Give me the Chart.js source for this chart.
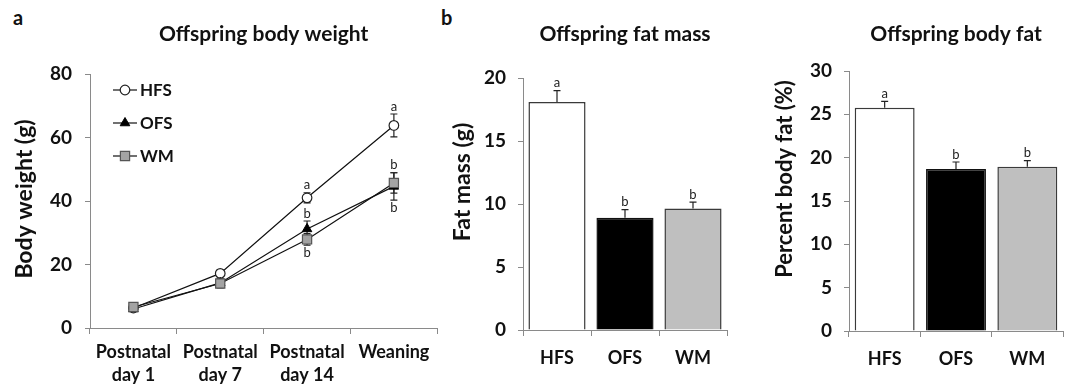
<!DOCTYPE html>
<html><head><meta charset="utf-8">
<script src="https://cdn.jsdelivr.net/npm/chart.js@4.4.0/dist/chart.umd.min.js"></script>
<style>
html,body{margin:0;padding:0;background:#fff;width:1068px;height:389px;overflow:hidden;font-family:Lato, sans-serif}
.box{position:absolute;top:0;height:389px}
.panel{position:absolute;font-weight:bold;font-size:20px;line-height:20px;color:#111;font-family:Lato, sans-serif}
</style></head><body>
<div class="panel" style="left:13px;top:7px">a</div>
<div class="panel" style="left:441px;top:7px">b</div>
<div class="box" style="left:0;width:445px"><canvas id="c1" width="445" height="389"></canvas></div>
<div class="box" style="left:445px;width:290px"><canvas id="c2" width="290" height="389"></canvas></div>
<div class="box" style="left:735px;width:333px"><canvas id="c3" width="333" height="389"></canvas></div>
<script>
// ---- data ----
const weightCategories = [['Postnatal','day 1'],['Postnatal','day 7'],['Postnatal','day 14'],'Weaning'];
const hfsWeight    = [6.3, 17.2, 41.0, 63.8];
const hfsWeightErr = [0.8, 1.0, 1.6, 3.6];
const ofsWeight    = [6.0, 14.2, 31.2, 44.6];
const ofsWeightErr = [0.8, 1.2, 2.5, 4.3];
const wmWeight     = [6.6, 14.0, 27.9, 45.7];
const wmWeightErr  = [0.8, 1.4, 1.8, 3.2];
const weightLetters = [[0,2,'above','a'],[1,2,'above','b'],[2,2,'below','b'],[0,3,'above','a'],[2,3,'above','b'],[1,3,'below','b']];

const groupCategories = ['HFS','OFS','WM'];
const fatMass        = [18.1, 8.9, 9.65];
const fatMassErr     = [0.9, 0.65, 0.5];
const fatMassLetters = ['a','b','b'];
const bodyFat        = [25.75, 18.7, 18.95];
const bodyFatErr     = [0.75, 0.8, 0.7];
const bodyFatLetters = ['a','b','b'];

const FONT = 'Lato, sans-serif';
const AXIS = '#8a8a8a';
const TXT = '#111';

// ---- plugins ----
const panelTitle = {
  id:'panelTitle',
  afterDraw(chart, args, opts){
    if (!opts.text) return;
    const ctx = chart.ctx, a = chart.chartArea;
    ctx.save();
    ctx.font = 'bold 21px ' + FONT;
    ctx.fillStyle = TXT; ctx.textAlign = 'center'; ctx.textBaseline = 'middle';
    ctx.fillText(opts.text, (a.left + a.right)/2 + (opts.dx||0), opts.y);
    if (opts.yText) {
      ctx.translate(opts.yx, opts.yy);
      ctx.rotate(-Math.PI/2);
      ctx.font = 'bold ' + (opts.ySize || 23) + 'px ' + FONT;
      ctx.fillText(opts.yText, 0, 0);
    }
    ctx.restore();
  }
};
const errorBars = {
  id:'errorBars',
  beforeDatasetsDraw(chart){
    const ctx = chart.ctx, y = chart.scales.y;
    chart.data.datasets.forEach((ds, di) => {
      if (!ds.errors) return;
      const meta = chart.getDatasetMeta(di);
      meta.data.forEach((el, i) => {
        const v = ds.data[i], e = ds.errors[i];
        const top = y.getPixelForValue(v + e), bot = y.getPixelForValue(v - e);
        const x = el.x, cap = 3.5;
        ctx.save(); ctx.strokeStyle = '#222'; ctx.lineWidth = 1.2;
        ctx.beginPath();
        ctx.moveTo(x, ds.errBoth ? bot : el.y); ctx.lineTo(x, top);
        ctx.moveTo(x - cap, top); ctx.lineTo(x + cap, top);
        if (ds.errBoth) { ctx.moveTo(x - cap, bot); ctx.lineTo(x + cap, bot); }
        ctx.stroke(); ctx.restore();
      });
    });
  }
};
const sigLetters = {
  id:'sigLetters',
  afterDatasetsDraw(chart, args, opts){
    const ctx = chart.ctx, y = chart.scales.y;
    ctx.save();
    ctx.font = '13px ' + FONT; ctx.fillStyle = '#222'; ctx.textAlign = 'center';
    (opts.items || []).forEach(([di, i, pos, t]) => {
      const ds = chart.data.datasets[di];
      const el = chart.getDatasetMeta(di).data[i];
      const v = ds.data[i], e = ds.errors[i];
      if (pos === 'above') {
        ctx.textBaseline = 'bottom';
        ctx.fillText(t, el.x, y.getPixelForValue(v + e) - 1);
      } else {
        ctx.textBaseline = 'top';
        ctx.fillText(t, el.x, Math.max(y.getPixelForValue(v - e), el.y + 6) + 1);
      }
    });
    ctx.restore();
  }
};
const innerLegend = {
  id:'innerLegend',
  afterDraw(chart, args, opts){
    if (!opts.x) return;
    const ctx = chart.ctx;
    chart.data.datasets.forEach((ds, i) => {
      const cy = opts.y + i * opts.gap, cx = opts.x;
      ctx.save();
      ctx.strokeStyle = '#111'; ctx.lineWidth = 1.2;
      ctx.beginPath(); ctx.moveTo(cx - 12, cy); ctx.lineTo(cx + 12, cy); ctx.stroke();
      ctx.fillStyle = ds.pointBackgroundColor; ctx.strokeStyle = ds.pointBorderColor; ctx.lineWidth = ds.pointBorderWidth;
      ctx.beginPath();
      const r = ds.pointRadius;
      if (ds.pointStyle === 'circle') { ctx.arc(cx, cy, r, 0, Math.PI*2); }
      else if (ds.pointStyle === 'triangle') { ctx.moveTo(cx, cy - r); ctx.lineTo(cx + r*0.87, cy + r*0.5); ctx.lineTo(cx - r*0.87, cy + r*0.5); ctx.closePath(); }
      else { const s = r * Math.SQRT1_2; ctx.rect(cx - s, cy - s, 2*s, 2*s); }
      ctx.fill(); ctx.stroke();
      ctx.font = 'bold 17px ' + FONT; ctx.fillStyle = TXT; ctx.textAlign = 'left'; ctx.textBaseline = 'middle';
      ctx.fillText(ds.label, cx + 15, cy + 1);
      ctx.restore();
    });
  }
};
Chart.register(panelTitle, errorBars, sigLetters, innerLegend);

function yScale(min, max, step, width, tickPad){
  return {
    min, max, ticks:{stepSize:step, color:TXT, padding:tickPad, font:{family:FONT, size:19, weight:'bold'}},
    grid:{display:true, drawOnChartArea:false, drawTicks:true, tickLength:5, color:AXIS},
    border:{display:true, color:AXIS, width:1},
    title:{display:false},
    afterFit(s){ s.width = width; }
  };
}
function xScale(height, pad, lh){
  return {
    offset:true,
    ticks:{color:TXT, padding:pad, maxRotation:0, autoSkip:false, font:{family:FONT, size:18, weight:'bold', lineHeight:lh}},
    grid:{display:true, offset:true, drawOnChartArea:false, drawTicks:true, tickLength:6, color:AXIS},
    border:{display:true, color:AXIS, width:1},
    afterFit(s){ s.height = height; }
  };
}

// ---- chart a: body weight ----
new Chart(document.getElementById('c1'), {
  type:'line',
  data:{
    labels: weightCategories,
    datasets:[
      {label:'HFS', data:hfsWeight, errors:hfsWeightErr, errBoth:true, borderColor:'#111', borderWidth:1.2,
       pointStyle:'circle', pointRadius:4.8, pointBackgroundColor:'#fff', pointBorderColor:'#222', pointBorderWidth:1.2, order:3},
      {label:'OFS', data:ofsWeight, errors:ofsWeightErr, errBoth:true, borderColor:'#111', borderWidth:1.2,
       pointStyle:'triangle', pointRadius:5.5, pointBackgroundColor:'#000', pointBorderColor:'#000', pointBorderWidth:1, order:2},
      {label:'WM', data:wmWeight, errors:wmWeightErr, errBoth:true, borderColor:'#111', borderWidth:1.2,
       pointStyle:'rect', pointRadius:6.5, pointBackgroundColor:'#a3a3a3', pointBorderColor:'#555', pointBorderWidth:1.2, order:1}
    ]
  },
  options:{
    responsive:false, animation:false,
    layout:{padding:{top:74, right:5, bottom:0, left:0}},
    scales:{
      x: xScale(61, 7, 1.25),
      y: yScale(0, 80, 20, 90, 13)
    },
    plugins:{
      legend:{display:false}, tooltip:{enabled:false},
      panelTitle:{text:'Offspring body weight', y:34, yText:'Body weight (g)', yx:25, yy:199, ySize:23},
      sigLetters:{items:weightLetters},
      innerLegend:{x:125, y:90, gap:33}
    }
  }
});

function barChart(id, values, errs, letters, max, width, tickPad, top, right, xh, chartTitle, yText, yx, yy, ySize){
  return new Chart(document.getElementById(id), {
    type:'bar',
    data:{
      labels: groupCategories,
      datasets:[{data:values, errors:errs,
        backgroundColor:['#ffffff','#000000','#bfbfbf'], borderColor:['#3a3a3a','#111','#3a3a3a'], borderWidth:1.5,
        barPercentage:0.84, categoryPercentage:1}]
    },
    options:{
      responsive:false, animation:false,
      layout:{padding:{top, right, bottom:0, left:0}},
      scales:{ x: xScale(xh, 11, 1.2), y: yScale(0, max, 5, width, tickPad) },
      plugins:{
        legend:{display:false}, tooltip:{enabled:false},
        panelTitle:{text:chartTitle, y:34, yText, yx, yy, ySize},
        sigLetters:{items: letters.map((t, i) => [0, i, 'above', t])},
        innerLegend:{}
      }
    }
  });
}
barChart('c2', fatMass, fatMassErr, fatMassLetters, 20, 78, 12, 78, 8, 59, 'Offspring fat mass', 'Fat mass (g)', 18, 182, 23);
barChart('c3', bodyFat, bodyFatErr, bodyFatLetters, 30, 114, 12, 71, 5, 58, 'Offspring body fat', 'Percent body fat (%)', 50, 179, 22);
</script>
</body></html>
